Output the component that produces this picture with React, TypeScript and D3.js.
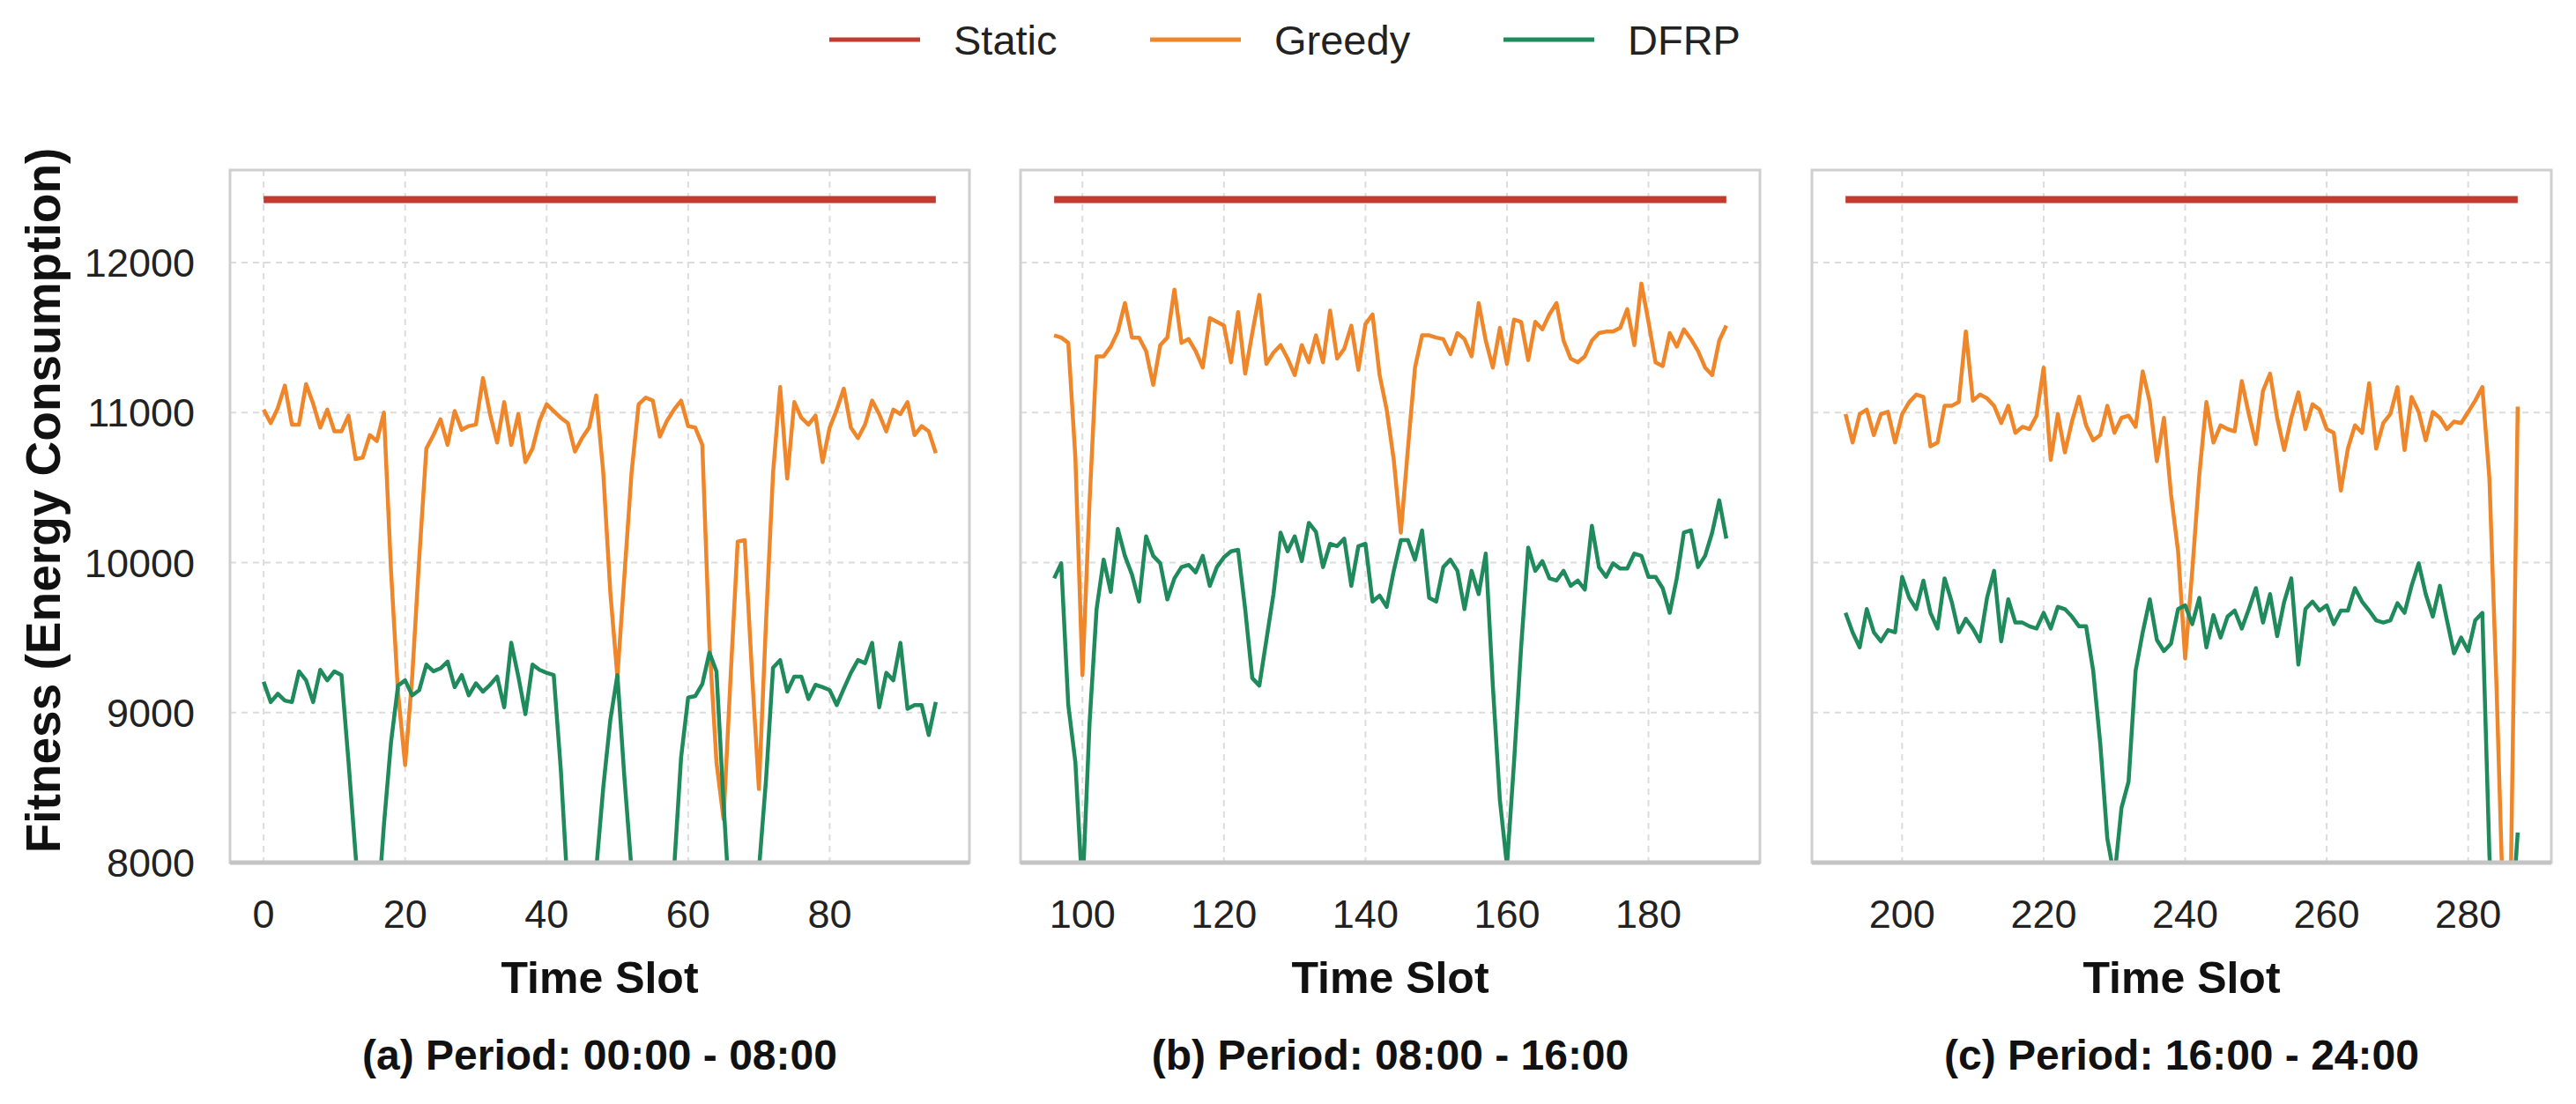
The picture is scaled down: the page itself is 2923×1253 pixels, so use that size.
import { useEffect, useRef } from "react";
import * as d3 from "d3";

const WIDTH = 2923;
const HEIGHT = 1253;

const SERIES = ["Static", "Greedy", "DFRP"];
const COLORS: Record<string, string> = { Static: "#c23b2e", Greedy: "#f0862a", DFRP: "#1f8a5b" };

const STATIC_LEVEL = 12420;
const SLOTS_PER_PERIOD = 96;
const PERIOD_STARTS = [0, 96, 192];
const PERIOD_LABELS = ["(a) Period: 00:00 - 08:00", "(b) Period: 08:00 - 16:00", "(c) Period: 16:00 - 24:00"];
const X_TICKS = [
  [0, 20, 40, 60, 80],
  [100, 120, 140, 160, 180],
  [200, 220, 240, 260, 280],
];
const Y_TICKS = [8000, 9000, 10000, 11000, 12000];
const Y_DOMAIN: [number, number] = [8000, 12617];

// Greedy, slots 0-95
const GREEDY_A = [
  11020, 10930, 11030, 11180, 10920, 10920, 11190, 11060, 10900, 11020, 10875, 10875,
  10980, 10690, 10700, 10850, 10810, 11000, 9950, 9130, 8650, 9240, 10035, 10760,
  10850, 10955, 10785, 11010, 10885, 10910, 10920, 11230, 10990, 10800, 11070, 10785,
  10990, 10670, 10760, 10945, 11055, 11010, 10965, 10930, 10740, 10830, 10900, 11115,
  10600, 9800, 9240, 9920, 10600, 11055, 11100, 11080, 10840, 10945, 11020, 11080,
  10910, 10900, 10785, 9470, 8670, 8290, 9240, 10140, 10150, 9280, 8490, 9600,
  10600, 11170, 10560, 11070, 10965, 10920, 10980, 10670, 10900, 11020, 11160, 10900,
  10830, 10920, 11080, 10990, 10875, 11020, 10990, 11070, 10850, 10910, 10875, 10730,
];
// DFRP, slots 0-95
const DFRP_A = [
  9205, 9070, 9125, 9080, 9070, 9275, 9215, 9070, 9285, 9215, 9275, 9250,
  8670, 8050, 7500, 7300, 7600, 8250, 8800, 9180, 9215, 9115, 9150, 9320,
  9275, 9295, 9340, 9170, 9250, 9115, 9195, 9140, 9185, 9240, 9035, 9465,
  9240, 8990, 9320, 9285, 9265, 9250, 8620, 7800, 7500, 7400, 7600, 7950,
  8500, 8950, 9250, 8560, 7950, 7400, 7300, 7300, 7400, 7600, 7950, 8700,
  9100, 9110, 9190, 9400, 9275, 8400, 7600, 7300, 7300, 7500, 7950, 8550,
  9300, 9350, 9140, 9240, 9240, 9090, 9185, 9170, 9150, 9050, 9160, 9265,
  9350, 9330, 9465, 9035, 9265, 9215, 9465, 9025, 9050, 9050, 8850, 9070,
];
// Greedy, slots 96-191
const GREEDY_B = [
  11515, 11500, 11465, 10700, 9250, 10400, 11375, 11375, 11440, 11540, 11730, 11500,
  11500, 11410, 11185, 11450, 11500, 11820, 11465, 11490, 11410, 11300, 11630, 11605,
  11580, 11335, 11670, 11260, 11530, 11785, 11325, 11400, 11450, 11360, 11250, 11450,
  11335, 11515, 11335, 11680, 11360, 11425, 11580, 11285, 11590, 11655, 11250, 11020,
  10685, 10200, 10760, 11300, 11515, 11515, 11500, 11490, 11390, 11530, 11490, 11375,
  11730, 11480, 11300, 11565, 11325, 11620, 11605, 11350, 11605, 11555, 11655, 11730,
  11480, 11360, 11335, 11375, 11480, 11530, 11540, 11540, 11565, 11690, 11450, 11860,
  11605, 11335, 11310, 11530, 11440, 11555, 11490, 11410, 11300, 11250, 11480, 11580,
];
// DFRP, slots 96-191
const DFRP_B = [
  9895, 9995, 9050, 8670, 7800, 8925, 9690, 10020, 9805, 10225, 10045, 9920,
  9740, 10175, 10045, 9995, 9755, 9895, 9970, 9985, 9935, 10045, 9845, 9970,
  10035, 10075, 10085, 9690, 9230, 9180, 9485, 9790, 10200, 10075, 10175, 10010,
  10265, 10205, 9970, 10125, 10110, 10160, 9845, 10110, 10125, 9740, 9780, 9705,
  9945, 10150, 10150, 10020, 10215, 9765, 9740, 9970, 10020, 9945, 9690, 9945,
  9790, 10060, 9180, 8415, 7980, 8670, 9435, 10100, 9945, 10010, 9895, 9880,
  9945, 9845, 9880, 9820, 10245, 9970, 9905, 9995, 9960, 9960, 10060, 10045,
  9905, 9905, 9830, 9665, 9895, 10200, 10215, 9970, 10045, 10200, 10415, 10160,
];
// Greedy, slots 192-287
const GREEDY_C = [
  10990, 10800, 10990, 11020, 10850, 10990, 11005, 10800, 10990, 11070, 11120, 11105,
  10775, 10800, 11045, 11045, 11070, 11540, 11080, 11120, 11095, 11045, 10930, 11045,
  10865, 10905, 10890, 10980, 11300, 10685, 10990, 10735, 10940, 11105, 10915, 10815,
  10850, 11045, 10865, 10965, 10980, 10905, 11275, 11070, 10675, 10965, 10455, 10075,
  9360, 9945, 10585, 11070, 10800, 10915, 10890, 10875, 11210, 10990, 10790, 11145,
  11260, 10965, 10750, 10965, 11135, 10890, 11055, 11020, 10890, 10865, 10480, 10760,
  10915, 10865, 11195, 10760, 10930, 10990, 11170, 10750, 11105, 11005, 10815, 11005,
  10965, 10890, 10940, 10930, 11005, 11080, 11170, 10560, 9180, 7600, 7800, 11040,
];
// DFRP, slots 192-287
const DFRP_C = [
  9665, 9535, 9435, 9690, 9535, 9475, 9550, 9535, 9905, 9765, 9690, 9880,
  9665, 9560, 9895, 9740, 9535, 9625, 9560, 9475, 9765, 9945, 9475, 9755,
  9600, 9600, 9575, 9560, 9665, 9560, 9705, 9690, 9640, 9575, 9575, 9280,
  8795, 8160, 7900, 8365, 8540, 9280, 9535, 9755, 9485, 9410, 9460, 9690,
  9715, 9590, 9765, 9435, 9650, 9500, 9640, 9680, 9560, 9690, 9830, 9600,
  9790, 9510, 9740, 9895, 9320, 9690, 9740, 9680, 9715, 9590, 9680, 9680,
  9830, 9740, 9680, 9615, 9600, 9615, 9730, 9665, 9845, 9995, 9790, 9640,
  9845, 9615, 9395, 9500, 9410, 9615, 9665, 8050, 7300, 7200, 7500, 8200,
];

const GREEDY = [GREEDY_A, GREEDY_B, GREEDY_C];
const DFRP = [DFRP_A, DFRP_B, DFRP_C];

const FONT = "'Liberation Sans', Arial, Helvetica, sans-serif";

export default function App() {
  const svgRef = useRef<SVGSVGElement>(null);

  useEffect(() => {
    if (!svgRef.current) return;
    const svg = d3.select(svgRef.current);
    svg.selectAll("*").remove();

    const panelLefts = [261, 1158, 2056];
    const panelW = 839;
    const top = 193;
    const bottom = 979;

    const y = d3.scaleLinear().domain(Y_DOMAIN).range([bottom, top]);

    svg.append("rect").attr("width", WIDTH).attr("height", HEIGHT).attr("fill", "#ffffff");

    PERIOD_STARTS.forEach((start, p) => {
      const left = panelLefts[p];
      const last = start + SLOTS_PER_PERIOD - 1;
      const pad = (last - start) * 0.05;
      const x = d3.scaleLinear().domain([start - pad, last + pad]).range([left, left + panelW]);
      const g = svg.append("g");

      // grid
      g.selectAll("line.vgrid")
        .data(X_TICKS[p])
        .join("line")
        .attr("x1", (d) => x(d)).attr("x2", (d) => x(d))
        .attr("y1", top).attr("y2", bottom)
        .attr("stroke", "#dcdcdc").attr("stroke-width", 2).attr("stroke-dasharray", "7,6");
      g.selectAll("line.hgrid")
        .data(Y_TICKS)
        .join("line")
        .attr("x1", left).attr("x2", left + panelW)
        .attr("y1", (d) => y(d)).attr("y2", (d) => y(d))
        .attr("stroke", "#dcdcdc").attr("stroke-width", 2).attr("stroke-dasharray", "7,6");

      const clipId = `clip-${p}`;
      svg.append("clipPath").attr("id", clipId)
        .append("rect").attr("x", left).attr("y", top).attr("width", panelW).attr("height", bottom - top);

      const plot = g.append("g").attr("clip-path", `url(#${clipId})`);
      const slots = d3.range(start, start + SLOTS_PER_PERIOD);
      const line = d3.line<number>().x((_d, i) => x(slots[i])).y((d) => y(d));

      plot.append("path")
        .datum(slots.map(() => STATIC_LEVEL))
        .attr("d", line)
        .attr("fill", "none").attr("stroke", COLORS.Static).attr("stroke-width", 8);
      plot.append("path")
        .datum(GREEDY[p])
        .attr("d", line)
        .attr("fill", "none").attr("stroke", COLORS.Greedy).attr("stroke-width", 4.5)
        .attr("stroke-linejoin", "round");
      plot.append("path")
        .datum(DFRP[p])
        .attr("d", line)
        .attr("fill", "none").attr("stroke", COLORS.DFRP).attr("stroke-width", 4.5)
        .attr("stroke-linejoin", "round");

      // spines
      g.append("rect")
        .attr("x", left).attr("y", top).attr("width", panelW).attr("height", bottom - top)
        .attr("fill", "none").attr("stroke", "#cfcfcf").attr("stroke-width", 3);
      g.append("line")
        .attr("x1", left).attr("x2", left + panelW).attr("y1", bottom).attr("y2", bottom)
        .attr("stroke", "#c4c4c4").attr("stroke-width", 5);

      // x tick labels
      g.selectAll("text.xtick")
        .data(X_TICKS[p])
        .join("text")
        .attr("x", (d) => x(d)).attr("y", 1053)
        .attr("text-anchor", "middle")
        .attr("fill", "#222")
        .style("font-family", FONT).style("font-size", "45px")
        .text((d) => String(d));

      g.append("text")
        .attr("x", left + panelW / 2).attr("y", 1127)
        .attr("text-anchor", "middle").attr("fill", "#111")
        .style("font-family", FONT).style("font-size", "50px").style("font-weight", "bold")
        .text("Time Slot");

      g.append("text")
        .attr("x", left + panelW / 2).attr("y", 1214)
        .attr("text-anchor", "middle").attr("fill", "#111")
        .style("font-family", FONT).style("font-size", "48px").style("font-weight", "bold")
        .text(PERIOD_LABELS[p]);

      if (p === 0) {
        g.selectAll("text.ytick")
          .data(Y_TICKS)
          .join("text")
          .attr("x", 221).attr("y", (d) => y(d) + 16)
          .attr("text-anchor", "end").attr("fill", "#222")
          .style("font-family", FONT).style("font-size", "45px")
          .text((d) => String(d));
      }
    });

    svg.append("text")
      .attr("transform", `translate(68,568) rotate(-90)`)
      .attr("text-anchor", "middle").attr("fill", "#111")
      .style("font-family", FONT).style("font-size", "55px").style("font-weight", "bold")
      .text("Fitness (Energy Consumption)");

    // legend
    const legendX = [941, 1305, 1706];
    const legend = svg.append("g");
    SERIES.forEach((name, i) => {
      legend.append("line")
        .attr("x1", legendX[i]).attr("x2", legendX[i] + 103)
        .attr("y1", 45).attr("y2", 45)
        .attr("stroke", COLORS[name]).attr("stroke-width", 5);
      legend.append("text")
        .attr("x", legendX[i] + 141).attr("y", 62)
        .attr("fill", "#222")
        .style("font-family", FONT).style("font-size", "47px")
        .text(name);
    });
  }, []);

  return (
    <svg
      ref={svgRef}
      width={WIDTH}
      height={HEIGHT}
      style={{ position: "absolute", left: 0, top: 0, display: "block" }}
    />
  );
}
